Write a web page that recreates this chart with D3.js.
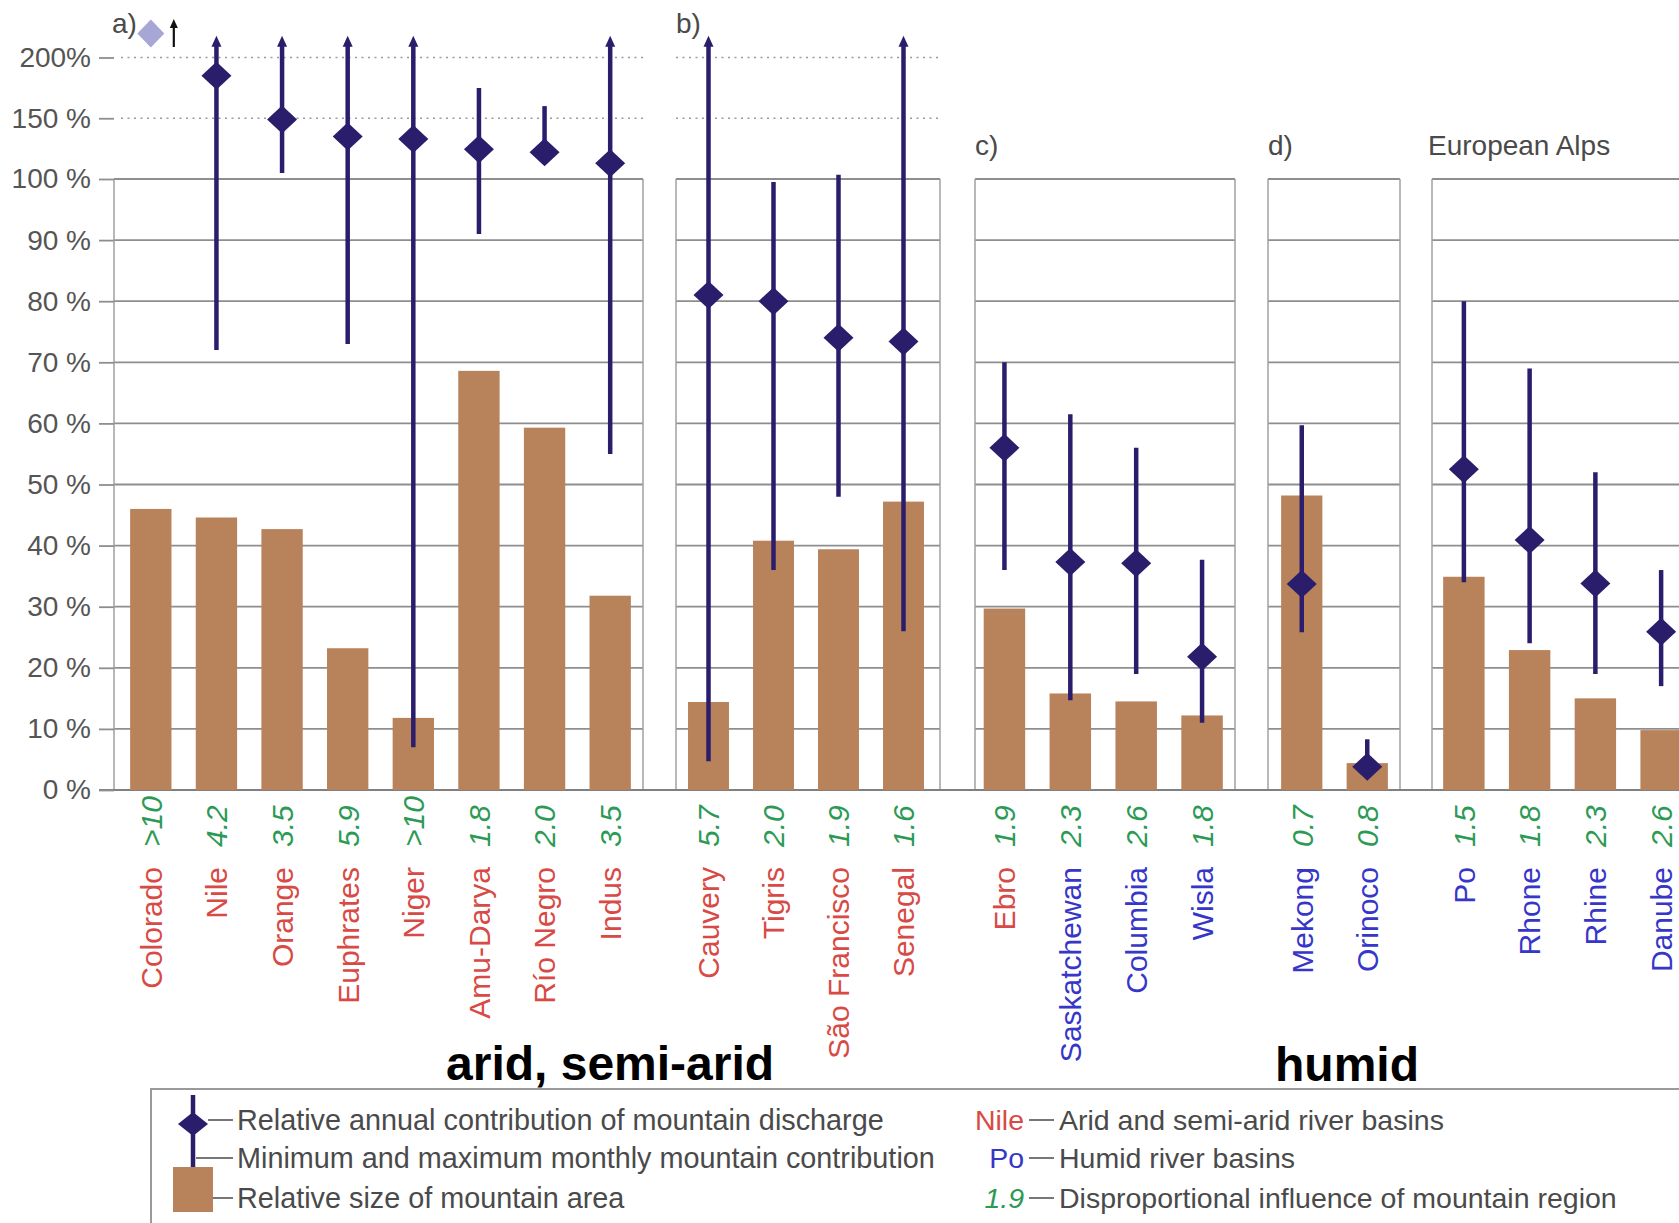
<!DOCTYPE html>
<html>
<head>
<meta charset="utf-8">
<script src="https://cdn.jsdelivr.net/npm/d3@7"></script>
<style>
  body { margin: 0; background: #fff; }
  svg { display: block; font-family: "Liberation Sans", Arial, sans-serif; }
</style>
</head>
<body>
<svg id="chart" width="1679" height="1223"></svg>
<script>
// river basins, in drawing order
const rivers = ["Colorado", "Nile", "Orange", "Euphrates", "Niger", "Amu-Darya", "Río Negro", "Indus",
  "Cauvery", "Tigris", "São Francisco", "Senegal",
  "Ebro", "Saskatchewan", "Columbia", "Wisla",
  "Mekong", "Orinoco",
  "Po", "Rhone", "Rhine", "Danube"];
const panelOf = ["a", "a", "a", "a", "a", "a", "a", "a",
  "b", "b", "b", "b",
  "c", "c", "c", "c",
  "d", "d",
  "alps", "alps", "alps", "alps"];
const climate = ["arid", "arid", "arid", "arid", "arid", "arid", "arid", "arid",
  "arid", "arid", "arid", "arid",
  "arid", "humid", "humid", "humid",
  "humid", "humid",
  "humid", "humid", "humid", "humid"];
const influence = [">10", "4.2", "3.5", "5.9", ">10", "1.8", "2.0", "3.5",
  "5.7", "2.0", "1.9", "1.6",
  "1.9", "2.3", "2.6", "1.8",
  "0.7", "0.8",
  "1.5", "1.8", "2.3", "2.6"];
// relative size of mountain area (%)
const areaShare = [46.0, 44.6, 42.7, 23.2, 11.8, 68.6, 59.3, 31.8,
  14.4, 40.8, 39.4, 47.2,
  29.7, 15.8, 14.5, 12.2,
  48.2, 4.4,
  34.9, 22.9, 15.0, 9.8];
// relative annual contribution of mountain discharge (%), null = off the chart
const annual = [null, 185, 149, 135, 133, 124.5, 122, 113,
  81, 80, 74, 73.4,
  56, 37.3, 37.1, 21.8,
  33.7, 3.8,
  52.5, 40.9, 33.8, 25.9];
// min / max monthly mountain contribution (%), null max = beyond 200 %
const monthlyMin = [null, 72, 105, 73, 7, 91, 117, 55,
  4.7, 36, 48, 26,
  36, 14.7, 19, 11,
  25.8, 3,
  34, 24, 19, 17];
const monthlyMax = [null, null, null, null, null, 175, 160, null,
  null, 99.5, 103.5, null,
  70, 61.5, 56, 37.7,
  59.7, 8.3,
  80, 69, 52, 36];
const yTicks = [0, 10, 20, 30, 40, 50, 60, 70, 80, 90, 100, 150, 200];

const panels = [
  { id: "a", label: "a)", x0: 114, x1: 643, b0: 118, b1: 643, lx: 112, ly: 33, upper: true },
  { id: "b", label: "b)", x0: 676, x1: 940, b0: 676, b1: 936, lx: 676, ly: 33, upper: true },
  { id: "c", label: "c)", x0: 975, x1: 1235, b0: 971.5, b1: 1235, lx: 975, ly: 155 },
  { id: "d", label: "d)", x0: 1268, x1: 1400, b0: 1269, b1: 1400, lx: 1268, ly: 155 },
  { id: "alps", label: "European Alps", x0: 1432, x1: 1700, b0: 1431, b1: 1694, lx: 1428, ly: 155 }
];

const barColor = "#b8835b";
const navy = "#2a1e6c";
const gridColor = "#8e8e8e";
const textGray = "#4a4a4a";
const nameColor = { arid: "#d84a45", humid: "#3636c8" };
const green = "#2c9a55";
const ARROW_TOP = 218;

const svg = d3.select("#chart");

// upper part of the axis is compressed: 0-100 linear, 100-200 squeezed
const y = d3.scaleLinear().domain([0, 100, 200]).range([790, 179, 57.5]);

const data = rivers.map((r, i) => ({
  name: r, panel: panelOf[i], climate: climate[i], infl: influence[i],
  area: areaShare[i], annual: annual[i], min: monthlyMin[i], max: monthlyMax[i]
}));

const xOf = {};
panels.forEach(p => {
  const names = data.filter(d => d.panel === p.id).map(d => d.name);
  p.x = d3.scaleBand().domain(names).range([p.b0, p.b1]).paddingInner(0.37).paddingOuter(0.185);
  names.forEach(n => xOf[n] = p.x);
});
const cx = d => xOf[d.name](d.name) + xOf[d.name].bandwidth() / 2;

// panel boxes, grid
const grid = svg.append("g");
panels.forEach(p => {
  grid.selectAll(null)
    .data(d3.range(10, 101, 10))
    .join("line")
    .attr("x1", p.x0).attr("x2", p.x1)
    .attr("y1", d => y(d)).attr("y2", d => y(d))
    .attr("stroke", gridColor).attr("stroke-width", 1.8);
  grid.selectAll(null)
    .data([p.x0, p.x1])
    .join("line")
    .attr("x1", d => d).attr("x2", d => d)
    .attr("y1", y(100)).attr("y2", y(0))
    .attr("stroke", "#a0a0a0").attr("stroke-width", 1.5);
  if (p.upper) {
    grid.selectAll(null)
      .data([150, 200])
      .join("line")
      .attr("x1", p.id === "a" ? 121 : p.x0).attr("x2", p.x1)
      .attr("y1", d => y(d)).attr("y2", d => y(d))
      .attr("stroke", "#9a9a9a").attr("stroke-width", 1.5)
      .attr("stroke-dasharray", "2,4.5");
  }
  svg.append("text")
    .attr("x", p.lx).attr("y", p.ly)
    .attr("font-size", 28).attr("fill", textGray)
    .text(p.label);
});
grid.append("line")
  .attr("x1", 99).attr("x2", 1679)
  .attr("y1", y(0)).attr("y2", y(0))
  .attr("stroke", "#808080").attr("stroke-width", 2);

// y axis
const yAxis = svg.append("g")
  .attr("transform", "translate(114,0)")
  .call(d3.axisLeft(y).tickValues(yTicks).tickSize(15).tickPadding(8)
    .tickFormat(d => d === 200 ? "200%" : d + " %"));
yAxis.select(".domain").remove();
yAxis.selectAll(".tick line").attr("stroke", gridColor).attr("stroke-width", 1.8);
yAxis.selectAll(".tick text").attr("font-size", 28).attr("fill", "#555")
  .attr("font-family", "Liberation Sans, Arial, sans-serif");

// bars
svg.append("g").selectAll("rect")
  .data(data)
  .join("rect")
  .attr("x", d => xOf[d.name](d.name))
  .attr("width", d => xOf[d.name].bandwidth())
  .attr("y", d => y(d.area))
  .attr("height", d => y(0) - y(d.area))
  .attr("fill", barColor);

// whiskers
const withDis = data.filter(d => d.annual != null);
const whisk = svg.append("g");
whisk.selectAll("line")
  .data(withDis)
  .join("line")
  .attr("x1", cx).attr("x2", cx)
  .attr("y1", d => y(d.min))
  .attr("y2", d => d.max == null ? y(ARROW_TOP) + 8 : y(d.max))
  .attr("stroke", navy).attr("stroke-width", 4.5);
whisk.selectAll("path.arrow")
  .data(withDis.filter(d => d.max == null))
  .join("path")
  .attr("class", "arrow")
  .attr("d", d => {
    const t = y(ARROW_TOP);
    return `M${cx(d)},${t} L${cx(d) + 5},${t + 11} L${cx(d) - 5},${t + 11} Z`;
  })
  .attr("fill", navy);

// diamonds
const diamond = (x, yy, w, h) => `M${x},${yy - h} L${x + w},${yy} L${x},${yy + h} L${x - w},${yy} Z`;
svg.append("g").selectAll("path")
  .data(withDis)
  .join("path")
  .attr("d", d => diamond(cx(d), y(d.annual), 15, 14))
  .attr("fill", navy);

// off-scale marker (Colorado)
data.filter(d => d.annual == null).forEach(d => {
  svg.append("path").attr("d", diamond(cx(d), 33.5, 13.5, 14)).attr("fill", "#a7a7d6");
  const ax = cx(d) + 23;
  svg.append("line").attr("x1", ax).attr("x2", ax).attr("y1", 47).attr("y2", 26)
    .attr("stroke", "#111").attr("stroke-width", 2.2);
  svg.append("path").attr("d", `M${ax},19 L${ax + 4},28 L${ax - 4},28 Z`).attr("fill", "#111");
});

// category labels, rotated
const labels = svg.append("g");
labels.selectAll("text.name")
  .data(data)
  .join("text")
  .attr("class", "name")
  .attr("transform", d => `translate(${cx(d)},867) rotate(-90)`)
  .attr("dy", "0.36em")
  .attr("text-anchor", "end")
  .attr("font-size", 30)
  .attr("fill", d => nameColor[d.climate])
  .text(d => d.name);
labels.selectAll("text.infl")
  .data(data)
  .join("text")
  .attr("class", "infl")
  .attr("transform", d => `translate(${cx(d)},847) rotate(-90)`)
  .attr("dy", "0.36em")
  .attr("font-size", 30)
  .attr("font-style", "italic")
  .attr("fill", green)
  .text(d => d.infl);

// climate group titles
svg.append("text").attr("x", 446).attr("y", 1080)
  .attr("font-size", 48).attr("font-weight", "bold").attr("fill", "#000")
  .text("arid, semi-arid");
svg.append("text").attr("x", 1275).attr("y", 1081)
  .attr("font-size", 48).attr("font-weight", "bold").attr("fill", "#000")
  .text("humid");

// legend
const lg = svg.append("g");
lg.append("rect").attr("x", 151).attr("y", 1089).attr("width", 1600).attr("height", 200)
  .attr("fill", "none").attr("stroke", "#9a9a9a").attr("stroke-width", 2);
lg.append("line").attr("x1", 193).attr("x2", 193).attr("y1", 1095).attr("y2", 1172)
  .attr("stroke", navy).attr("stroke-width", 4.5);
lg.append("path").attr("d", diamond(193, 1124, 15, 12)).attr("fill", navy);
lg.append("rect").attr("x", 173).attr("y", 1167).attr("width", 40).attr("height", 45).attr("fill", barColor);

const leftItems = [
  { text: "Relative annual contribution of mountain discharge", y: 1130, dx0: 208 },
  { text: "Minimum and maximum monthly mountain contribution", y: 1168, dx0: 196 },
  { text: "Relative size of mountain area", y: 1208, dx0: 213 }
];
leftItems.forEach(it => {
  lg.append("line").attr("x1", it.dx0).attr("x2", 233).attr("y1", it.y - 10).attr("y2", it.y - 10)
    .attr("stroke", "#777").attr("stroke-width", 2);
  lg.append("text").attr("x", 237).attr("y", it.y)
    .attr("font-size", 28.8).attr("fill", textGray).text(it.text);
});

const rightItems = [
  { key: "Nile", color: nameColor.arid, italic: false, text: "Arid and semi-arid river basins", y: 1130 },
  { key: "Po", color: nameColor.humid, italic: false, text: "Humid river basins", y: 1168 },
  { key: "1.9", color: green, italic: true, text: "Disproportional influence of mountain region", y: 1208 }
];
rightItems.forEach(it => {
  lg.append("text").attr("x", 1024).attr("y", it.y).attr("text-anchor", "end")
    .attr("font-size", 28.5).attr("fill", it.color)
    .attr("font-style", it.italic ? "italic" : "normal").text(it.key);
  lg.append("line").attr("x1", 1029).attr("x2", 1054).attr("y1", it.y - 10).attr("y2", it.y - 10)
    .attr("stroke", "#777").attr("stroke-width", 2);
  lg.append("text").attr("x", 1059).attr("y", it.y)
    .attr("font-size", 28.5).attr("fill", textGray).text(it.text);
});
</script>
</body>
</html>
